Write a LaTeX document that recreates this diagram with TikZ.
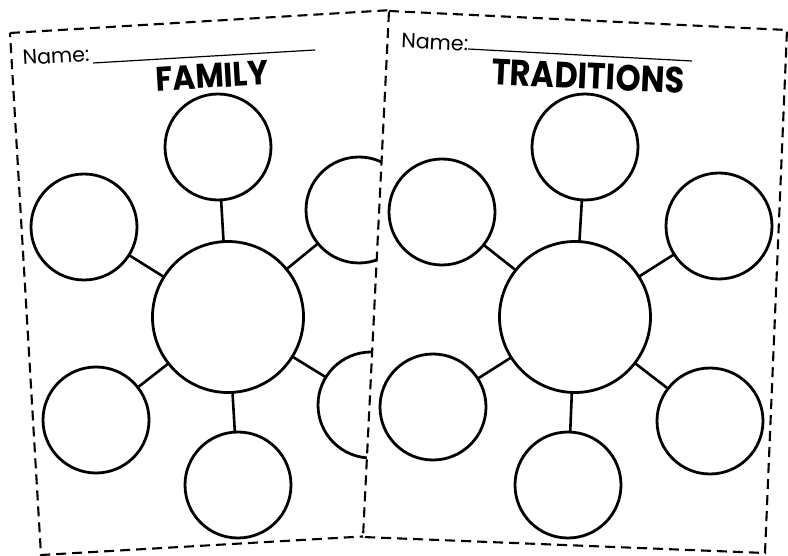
\documentclass[tikz,border=0pt]{standalone}
\usepackage{fontspec}
\setmainfont{Poppins}
\begin{document}
\begin{tikzpicture}[x=1pt,y=-1pt,
  sheet/.style={draw=black, fill=white, line width=2.1pt, dash pattern=on 10pt off 6pt},
  bubble/.style={circle, draw=black, line width=2.8pt, inner sep=0pt, outer sep=0pt, minimum size=106pt},
  hub/.style={bubble, minimum size=151pt},
  link/.style={draw=black, line width=2.6pt},
  nameline/.style={draw=black, line width=1.2pt},
  label/.style={inner sep=0pt, outer sep=0pt}]
\useasboundingbox (0,0) rectangle (788,556);
\fill[white] (0,0) rectangle (788,556);

% ---------- left sheet: FAMILY ----------
\draw[sheet] (10,33) -- (392,10) -- (423,533) -- (41,555) -- cycle;
\node[label, rotate=3.4, anchor=base west] (nameL) at (23,65) {\resizebox{67pt}{!}{Name:}};
\coordinate (nlA) at (93,63);
\coordinate (nlB) at (315,50);
\draw[nameline] (nlA) -- (nlB);
\node[label, rotate=3.4] (titleL) at (212,76) {\resizebox{113pt}{24pt}{\bfseries FAMILY}};

\node[hub]    (cL)  at (228,317) {};
\node[bubble] (tL)  at (218,147) {};
\node[bubble] (ulL) at (84,227)  {};
\node[bubble] (urL) at (359,210) {};
\node[bubble] (llL) at (96,420)  {};
\node[bubble] (lrL) at (371,405) {};
\node[bubble] (bL)  at (238,485) {};
\foreach \n in {tL,ulL,urL,llL,lrL,bL} \draw[link] (cL) -- (\n);

% ---------- right sheet: TRADITIONS ----------
\draw[sheet] (389,11) -- (787,30) -- (765,553) -- (363,537) -- cycle;
\node[label, rotate=-2.7, anchor=base west] (nameR) at (401,48) {\resizebox{67pt}{!}{Name:}};
\coordinate (nrA) at (468,49);
\coordinate (nrB) at (692,61);
\draw[nameline] (nrA) -- (nrB);
\node[label, rotate=-2.7] (titleR) at (588,76) {\resizebox{193pt}{26pt}{\bfseries TRADITIONS}};

\node[hub]    (cR)  at (575,317) {};
\node[bubble] (tR)  at (585,147) {};
\node[bubble] (ulR) at (442,212) {};
\node[bubble] (urR) at (719,226) {};
\node[bubble] (llR) at (433,407) {};
\node[bubble] (lrR) at (710,421) {};
\node[bubble] (bR)  at (568,485) {};
\foreach \n in {tR,ulR,urR,llR,lrR,bR} \draw[link] (cR) -- (\n);
\end{tikzpicture}
\end{document}
